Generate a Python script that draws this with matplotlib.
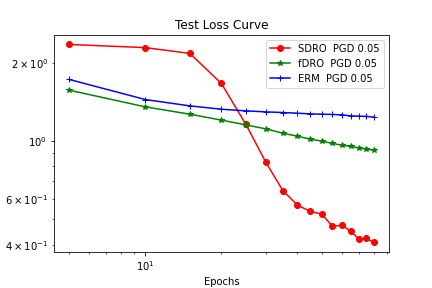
import matplotlib
matplotlib.use('Agg')
import matplotlib.pyplot as plt

# epochs and test loss values
epochs = [5, 10, 15, 20, 25, 30, 35, 40, 45, 50, 55, 60, 65, 70, 75, 80]
sdro_loss = [2.355, 2.29, 2.175, 1.667, 1.16, 0.828, 0.646, 0.567, 0.537, 0.524,
             0.470, 0.475, 0.450, 0.420, 0.4225, 0.408]
fdro_loss = [1.571, 1.355, 1.27, 1.205, 1.155, 1.115, 1.073, 1.045, 1.018, 1.0,
             0.980, 0.965, 0.954, 0.942, 0.934, 0.923]
erm_loss = [1.727, 1.446, 1.367, 1.327, 1.308, 1.296, 1.289, 1.281, 1.273, 1.270,
            1.267, 1.262, 1.251, 1.248, 1.245, 1.237]

fig = plt.figure(figsize=(6, 4), dpi=72)
plt.plot(epochs, sdro_loss, 'ro-', label='SDRO  PGD 0.05')
plt.plot(epochs, fdro_loss, 'g*-', label='fDRO  PGD 0.05')
plt.plot(epochs, erm_loss, 'b+-', label='ERM  PGD 0.05')
plt.xscale('log')
plt.yscale('log')
plt.title('Test Loss Curve')
plt.xlabel('Epochs')
plt.legend()
plt.subplots_adjust(bottom=0.124)
plt.savefig('out.png', dpi=72)
